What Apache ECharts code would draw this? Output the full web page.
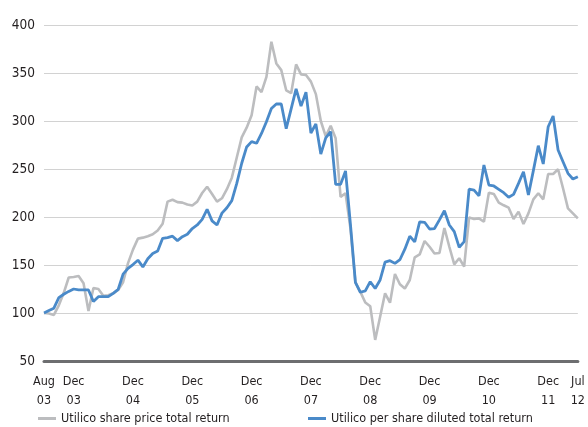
<!DOCTYPE html>
<html><head><meta charset="utf-8">
<script src="https://cdn.jsdelivr.net/npm/echarts/dist/echarts.min.js"></script>
<style>html,body{margin:0;padding:0;background:#fff}#c{width:588px;height:427px}</style>
</head><body><div id="c"></div>
<script>
// Monthly total-return index (rebased to 100), Aug 03 – Jul 12
const sharePriceTR = [
 100,99.5,98,108,121,137,137.5,138.5,131,102,
 126,125,118,118.5,120.5,124,132,152,166,177.5,
 178.5,180,182,186,193,216,218,215.5,215,213,
 212,216,225,231.5,224,216,219.5,229,241,262,
 283,293,306,336,330,346,382.6,360,353,332,
 329,359,348.6,348,341,328,300,284,295,282,
 221,224.7,188,132,122,111,107,72,96,120.5,
 110.7,140.6,130,125.5,134.4,158,161,175,169,162,
 162.5,188.5,169,150.7,157,148.3,199.5,198,198.6,195,
 225.3,224,215,212.2,209.7,198,205.6,192.7,203.8,218.4,
 224.7,218.4,244.8,244.8,249.7,229.9,209,203.8,198.6
];
const dilutedTR = [
 100,102.5,105,116,119.5,122.5,125,124,124,124,
 112,117,117,117,120.5,124.5,140.5,146.5,150.5,155,
 148,156.5,162,164.6,177.8,178.5,180,175.4,179.5,182,
 188,191.7,197.5,208,196,191.7,204,209.7,217,235,
 256,273,278.5,276.8,287,299.3,313,317.7,317.7,292,
 312.7,333.5,315.5,330,287.5,297,265.5,282.5,289,234,
 234,248,192,132,121.6,123,132.6,125.5,134.4,153,
 154.5,151.7,155.5,166.5,180,174,195,194.5,187.5,188,
 197,206.5,191.7,184.7,168.4,174.3,229,228,222,254.2,
 233.3,232.3,228.8,225.3,220.5,223.6,235,247.2,223,248.3,
 274.3,255.2,294,305.2,269.8,257.6,245.5,239.6,242
];
const xTickLabels = [
 [0,'Aug\n03'],[6,'Dec\n03'],[18,'Dec\n04'],[30,'Dec\n05'],[42,'Dec\n06'],
 [54,'Dec\n07'],[66,'Dec\n08'],[78,'Dec\n09'],[90,'Dec\n10'],[102,'Dec\n11'],[108,'Jul\n12']
];
const seriesNames = ['Utilico share price total return','Utilico per share diluted total return'];
const yMin = 50, yMax = 400, yStep = 50;

const FONT = "'DejaVu Sans Condensed','Liberation Sans Narrow',sans-serif";
const TXT = '#231f20';
const GREY = '#bcbdbf', BLUE = '#4a8ac9';

const months = sharePriceTR.map((_, i) => String(i));
const labelMap = {};
xTickLabels.forEach(([i, t]) => { labelMap[i] = t; });

const legendBase = {icon: 'rect', itemWidth: 18, itemHeight: 3, padding: 0, itemGap: 0,
  textStyle: {fontFamily: FONT, fontSize: 12.5, color: TXT}};

const chart = echarts.init(document.getElementById('c'), null, {renderer: 'canvas'});
chart.setOption({
  animation: false,
  backgroundColor: '#fff',
  grid: {left: 44, right: 8, top: 25, bottom: 66},
  legend: [
    Object.assign({left: 38, top: 412, data: [seriesNames[0]]}, legendBase),
    Object.assign({left: 308, top: 412, data: [seriesNames[1]]}, legendBase)
  ],
  xAxis: {
    type: 'category', data: months, boundaryGap: false,
    axisLine: {lineStyle: {color: '#6d6e70', width: 3}},
    axisTick: {show: false},
    axisLabel: {
      interval: (i) => labelMap[i] !== undefined,
      formatter: (v, i) => labelMap[i] || '',
      fontFamily: FONT, fontSize: 12.5, color: TXT, lineHeight: 19, margin: 11
    },
    splitLine: {show: false}
  },
  yAxis: {
    type: 'value', min: yMin, max: yMax, interval: yStep,
    axisLine: {show: false}, axisTick: {show: false},
    axisLabel: {fontFamily: FONT, fontSize: 13.5, color: TXT, margin: 9},
    splitLine: {lineStyle: {color: '#d2d2d2', width: 1}}
  },
  series: [
    {name: seriesNames[0], type: 'line', data: sharePriceTR, symbol: 'none',
     lineStyle: {color: GREY, width: 2.6}, itemStyle: {color: GREY}},
    {name: seriesNames[1], type: 'line', data: dilutedTR, symbol: 'none',
     lineStyle: {color: BLUE, width: 2.8}, itemStyle: {color: BLUE}}
  ]
});
</script>
</body></html>
